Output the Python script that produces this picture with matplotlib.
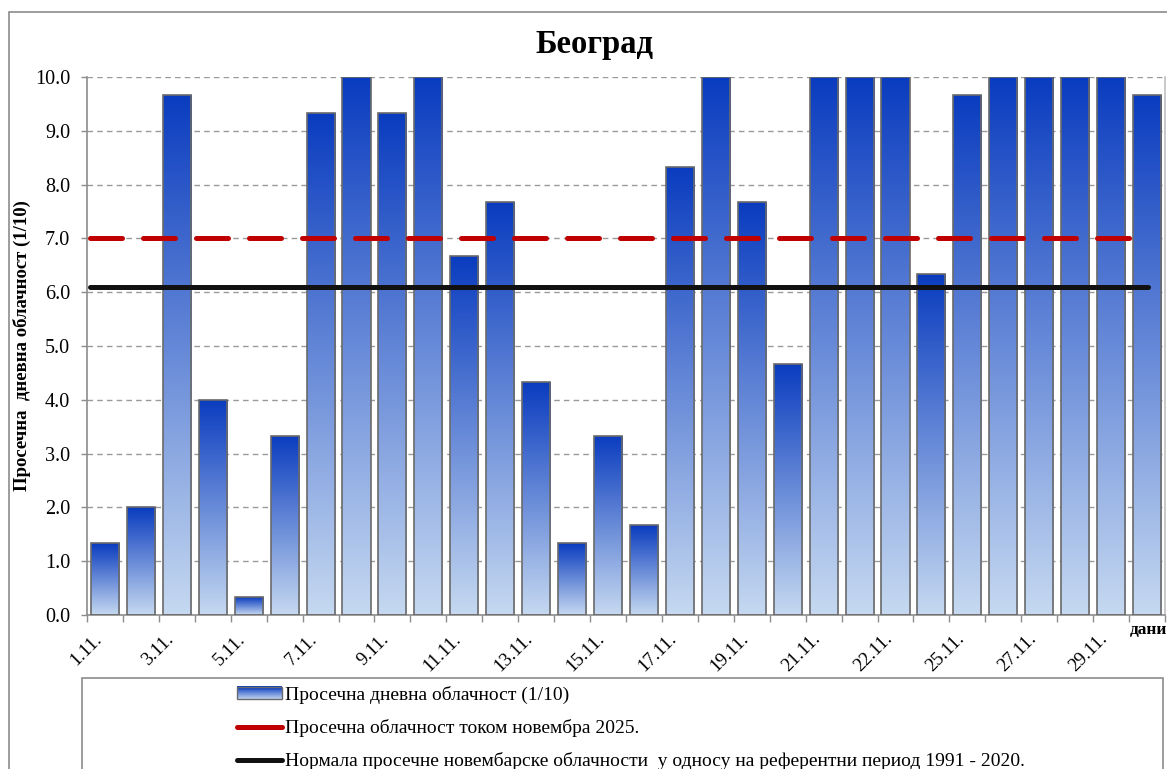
import numpy as np
import matplotlib
matplotlib.use("Agg")
import matplotlib.pyplot as plt
import matplotlib.transforms as mtransforms
from matplotlib.colors import LinearSegmentedColormap
from matplotlib.patches import Rectangle
from matplotlib.lines import Line2D
from matplotlib.legend_handler import HandlerBase

plt.rcParams['font.family'] = ['Liberation Serif', 'DejaVu Serif']

# Daily mean cloudiness for Belgrade, November 2025 (tenths)
days = list(range(1, 31))
cloudiness = [1.33, 2.0, 9.67, 4.0, 0.33, 3.33, 9.33, 10.0, 9.33, 10.0,
              6.67, 7.67, 4.33, 1.33, 3.33, 1.67, 8.33, 10.0, 7.67, 4.67,
              10.0, 10.0, 10.0, 6.33, 9.67, 10.0, 10.0, 10.0, 10.0, 9.67]
tick_positions = list(range(0, 30, 2))
tick_labels = ['1.11.', '3.11.', '5.11.', '7.11.', '9.11.', '11.11.', '13.11.',
               '15.11.', '17.11.', '19.11.', '21.11.', '22.11.', '25.11.',
               '27.11.', '29.11.']
month_mean = 7.0
normal_1991_2020 = 6.1

title = 'Београд'
ylabel = 'Просечна  дневна облачност (1/10)'
xlabel = 'дани'
legend_labels = ['Просечна дневна облачност (1/10)',
                 'Просечна облачност током новембра 2025.',
                 'Нормала просечне новембарске облачности  у односу на референтни период 1991 - 2020.']

W, H = 1167, 769
fig = plt.figure(figsize=(W / 100, H / 100), dpi=100)
fig.patch.set_facecolor('white')

# outer chart border
fig.add_artist(Rectangle((9 / W, 1 - 790 / H), 1200 / W, 778 / H,
                         transform=fig.transFigure, fill=False,
                         edgecolor='#8c8c8c', lw=1.2))

ax = fig.add_axes([87 / W, 1 - 615 / H, (1165 - 87) / W, (615 - 77) / H])

grad = LinearSegmentedColormap.from_list('cloud', ['#c6d9f1', '#0a3cbf'])
gradient = np.linspace(0, 1, 256).reshape(-1, 1)

x = np.arange(len(days))
bars = ax.bar(x, cloudiness, width=0.78, facecolor='none',
              edgecolor='#6a6a6a', linewidth=1.2, zorder=3)
for b in bars:
    x0, y0 = b.get_x(), b.get_y()
    w, h = b.get_width(), b.get_height()
    im = ax.imshow(gradient, cmap=grad, origin='lower', aspect='auto',
                   extent=[x0, x0 + w, y0, y0 + h], zorder=2,
                   interpolation='bilinear')
    im.set_clip_path(b)

# reference lines
ax.plot([-0.42, 29.0], [month_mean, month_mean], color='#c00000', lw=3.6,
        dashes=(6.4, 4.2), dash_capstyle='round', zorder=4)
ax.plot([-0.42, 29.03], [normal_1991_2020, normal_1991_2020],
        color='#111111', lw=3.6, solid_capstyle='round', zorder=4)

ax.set_xlim(-0.5, 29.5)
ax.set_ylim(0, 10)
ax.set_yticks(np.arange(0, 11, 1))
ax.set_yticklabels([f'{v:.1f}' for v in range(11)], fontsize=14.5)
ax.yaxis.grid(True, color='#9a9a9a', linestyle=(0, (4, 3)), lw=1.0, zorder=0)
ax.set_axisbelow(True)

ax.set_xticks(tick_positions)
ax.set_xticklabels(tick_labels, rotation=45, ha='right', va='top',
                   fontsize=13.5)
shift = mtransforms.ScaledTranslation(0.06, 0, fig.dpi_scale_trans)
for lbl in ax.get_xticklabels():
    lbl.set_transform(lbl.get_transform() + shift)
ax.set_xticks(np.arange(-0.5, 30, 1), minor=True)
ax.tick_params(axis='x', which='major', length=0, pad=11)
ax.tick_params(axis='x', which='minor', length=5, color='#8c8c8c', width=1)
ax.tick_params(axis='y', length=4, color='#8c8c8c', width=1, pad=8)

for s in ['left', 'bottom', 'right']:
    ax.spines[s].set_color('#8c8c8c')
    ax.spines[s].set_linewidth(1.2)
ax.spines['right'].set_color('#c0c0c0')
ax.spines['top'].set_visible(False)

fig.text(594 / W, 1 - 45 / H, title, ha='center', va='center',
         fontsize=23.5, fontweight='bold')
fig.text(22 / W, 1 - 346 / H, ylabel, ha='center', va='center',
         rotation=90, fontsize=13.5, fontweight='bold')
fig.text(1148 / W, 1 - 630 / H, xlabel, ha='center', va='center',
         fontsize=12.5, fontweight='bold')


class GradientHandler(HandlerBase):
    def create_artists(self, legend, orig_handle, xdescent, ydescent,
                       width, height, fontsize, trans):
        n = 14
        arts = []
        for i in range(n):
            c = grad(i / (n - 1))
            r = Rectangle((-xdescent, -ydescent + height * i / n), width,
                          height / n + 0.3, facecolor=c, edgecolor='none',
                          transform=trans)
            arts.append(r)
        arts.append(Rectangle((-xdescent, -ydescent), width, height,
                              facecolor='none', edgecolor='#6a6a6a',
                              lw=1.0, transform=trans))
        return arts


# legend box
fig.add_artist(Rectangle((82 / W, 1 - 790 / H), (1163 - 82) / W, 112 / H,
                         transform=fig.transFigure, fill=False,
                         edgecolor='#8c8c8c', lw=1.2))

bar_handle = Rectangle((0, 0), 1, 1)
red_handle = Line2D([], [], color='#c00000', lw=3.6, solid_capstyle='round')
black_handle = Line2D([], [], color='#111111', lw=3.6, solid_capstyle='round')
leg = fig.legend([bar_handle, red_handle, black_handle], legend_labels,
                 handler_map={Rectangle: GradientHandler()},
                 loc='upper left', bbox_to_anchor=(237 / W, 1 - 686 / H),
                 frameon=False, borderpad=0, borderaxespad=0,
                 handlelength=2.3, handleheight=0.62, handletextpad=0.15,
                 labelspacing=0.78, fontsize=14)

fig.savefig('out.png', dpi=100)
